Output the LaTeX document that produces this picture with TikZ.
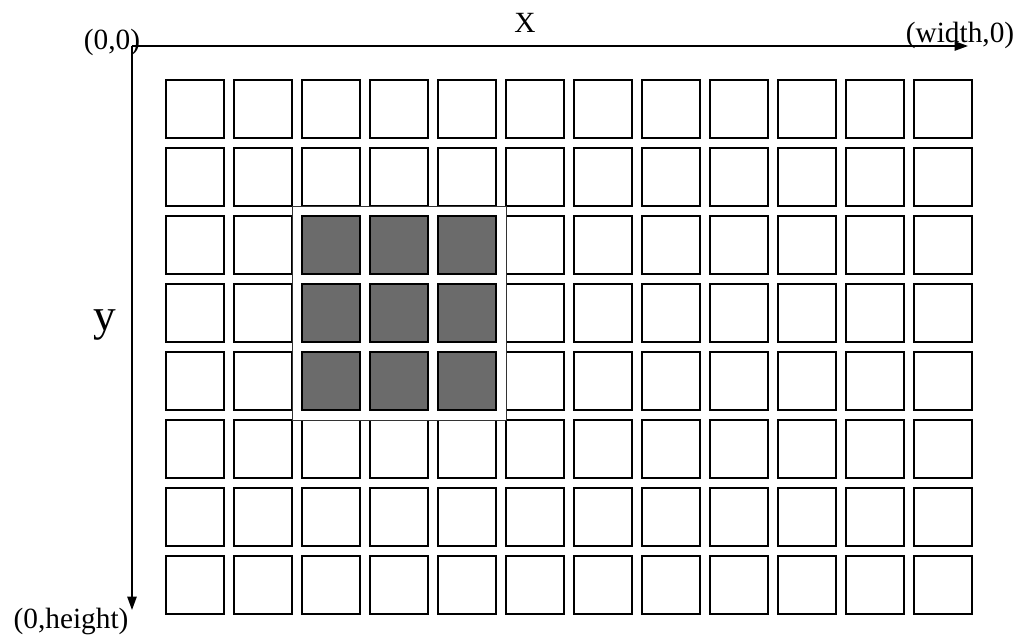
\documentclass[tikz,border=0pt]{standalone}
\usepackage{fontspec}
\setmainfont{Liberation Serif}
\usetikzlibrary{arrows.meta, positioning}

\tikzset{
  cellbox/.style={draw=black, line width=1.4pt, minimum size=43.5pt, inner sep=0pt, outer sep=0pt},
  darkbox/.style={cellbox, fill=black!58},
  framebox/.style={draw=black!80, line width=0.7pt, fill=white},
  axis/.style={line width=1.1pt, -{Triangle[length=10pt, width=7pt]}},
  coordlabel/.style={font=\fontsize{22}{26}\selectfont, inner sep=0pt}
}

\begin{document}
\begin{tikzpicture}[x=0.75pt, y=-0.75pt]

        \useasboundingbox (0,0) rectangle (1023,635);

        % ==========================================
        % Griglia di pixel (12 x 8)
        % ==========================================
        \foreach \col in {0,...,11} {
            \foreach \row in {0,...,7} {
                \node[cellbox] (c-\col-\row) at ({195+68*\col}, {109+68*\row}) {};
            }
        }

        % ==========================================
        % Finestra 3x3 evidenziata
        % ==========================================
        \draw[framebox] (c-1-1.south east) rectangle (c-5-5.north west);
        \foreach \col in {2,3,4} {
            \foreach \row in {2,3,4} {
                \node[darkbox] (d-\col-\row) at (c-\col-\row) {};
            }
        }

        % ==========================================
        % Assi x e y
        % ==========================================
        \coordinate (O) at (132,46);
        \coordinate (xend) at (968,46);
        \coordinate (yend) at (132,610);
        \draw[axis] (O) -- (xend);
        \draw[axis] (O) -- (yend);

        % Etichette
        \node[coordlabel] (origin) at (112,42) {(0,0)};
        \node[coordlabel] (wlabel) at (960,35) {(width,0)};
        \node[coordlabel] (hlabel) at (71,621) {(0,height)};
        \node[coordlabel] (xlabel) at (525,23) {X};
        \node[coordlabel, font=\fontsize{34}{40}\selectfont] (ylabel) at (105,325) {y};

\end{tikzpicture}
\end{document}
